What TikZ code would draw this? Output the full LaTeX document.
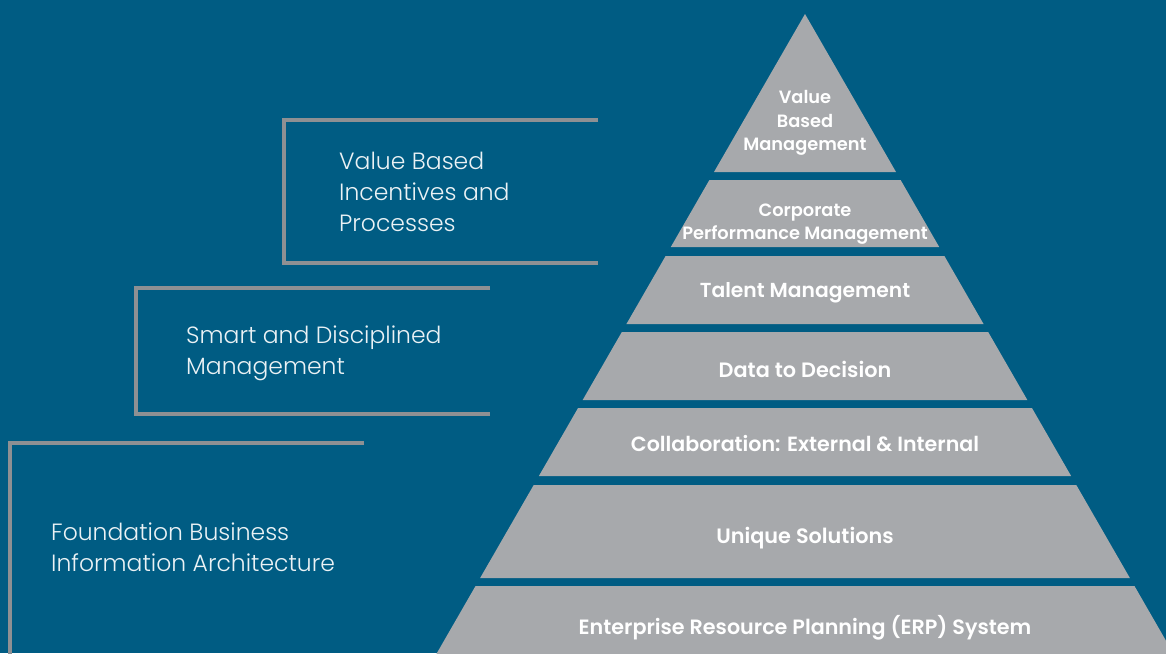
\documentclass[tikz,border=0pt]{standalone}
\usepackage{fontspec}
\setmainfont{Poppins}[UprightFont={* Light},BoldFont={* SemiBold}]
\definecolor{bgblue}{RGB}{0,92,131}
\definecolor{bandgray}{RGB}{167,169,172}
\definecolor{rulegray}{RGB}{142,144,147}
\tikzset{
	band/.style={fill=bandgray, draw=none},
	bandtext/.style={text=white, font=\bfseries\fontsize{#1}{23.5}\selectfont, align=center, inner sep=0pt},
	bandtext/.default=20.6,
	bracket/.style={draw=rulegray, line width=4pt},
	sidetext/.style={text=white!92!bgblue, font=\fontsize{23.5}{31}\selectfont, align=left, anchor=west, inner sep=0pt}
}
\begin{document}
\begin{tikzpicture}[x=1pt, y=-1pt]
		\useasboundingbox (0,0) rectangle (1166,653);
		\fill[bgblue] (0,0) rectangle (1166,653);
		% pyramid
		\coordinate (apex) at (805,14);
		\fill[band] (apex) -- ({805+0.576*158},172) -- ({805-0.576*158},172) -- cycle;
		\node[bandtext=17.8] (band1) at (805,123) {Value\\Based\\Management};
		\foreach \t/\b/\ty/\s/\txt [count=\i from 2] in {180/247/224/17.8/{Corporate\\Performance Management}, 256/324/293/20.3/{Talent Management}, 332/400/369/20.8/{Data to Decision}, 408/476/444/20.6/{Collaboration: External \& Internal}, 485/578/538/20.8/{Unique Solutions}, 586/660/628/20.7/{Enterprise Resource Planning (ERP) System}}
		{
			\fill[band] ({805-0.576*(\t-14)},\t) -- ({805+0.576*(\t-14)},\t) -- ({805+0.576*(\b-14)},\b) -- ({805-0.576*(\b-14)},\b) -- cycle;
			\node[bandtext=\s] (band\i) at (805,\ty) {\txt};
		}
		% brackets
		\coordinate (v1) at (284,120);
		\coordinate (v2) at (284,263);
		\draw[bracket] (598,120) -- (v1) -- (v2) -- (598,263);
		\node[sidetext] (incentives) at (339,192) {Value Based\\Incentives and\\Processes};
		\coordinate (s1) at (136,288);
		\coordinate (s2) at (136,414);
		\draw[bracket] (490,288) -- (s1) -- (s2) -- (490,414);
		\node[sidetext] (smart) at (186,353.5) {Smart and Disciplined\\Management};
		\coordinate (f1) at (10,443);
		\draw[bracket] (364,443) -- (f1) -- (10,660);
		\node[sidetext] (foundation) at (51,547.5) {Foundation Business\\Information Architecture};
	\end{tikzpicture}
\end{document}
